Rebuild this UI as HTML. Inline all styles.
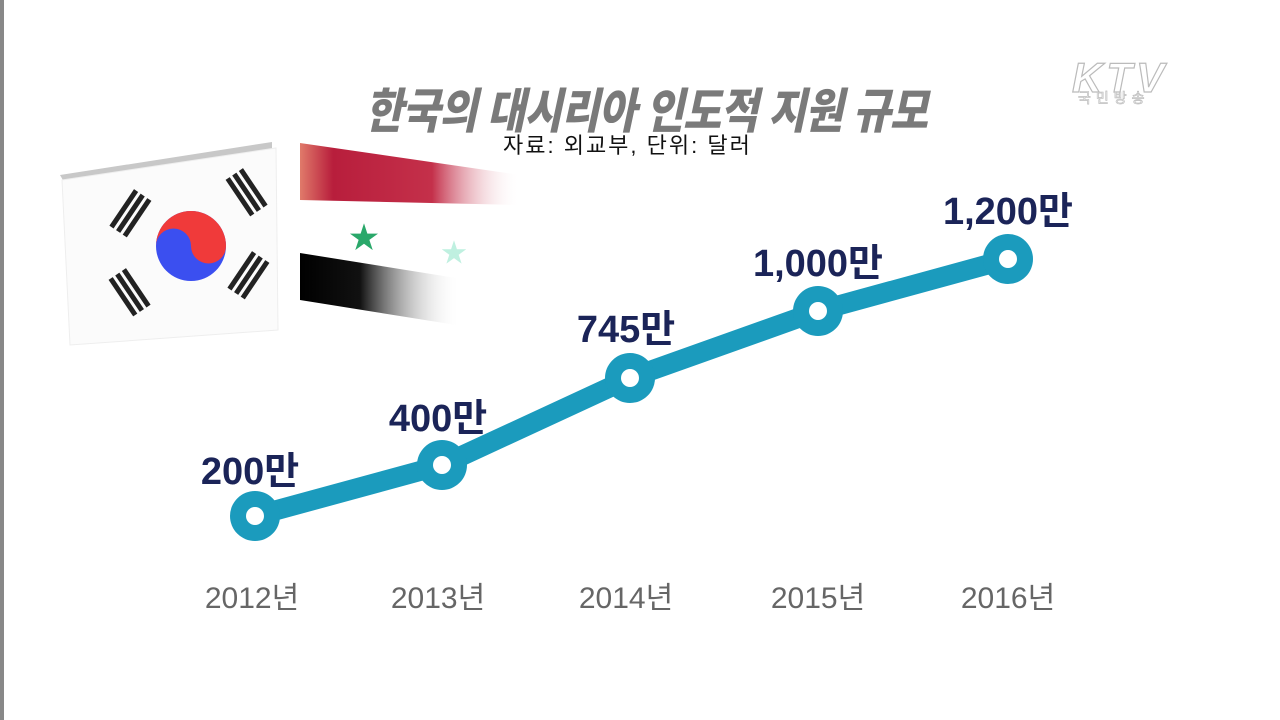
<!DOCTYPE html>
<html><head><meta charset="utf-8"><style>
body{margin:0;width:1280px;height:720px;background:#fff;overflow:hidden;position:relative;font-family:"Liberation Sans","Noto Sans CJK KR",sans-serif}
.t{position:absolute;white-space:nowrap}
</style></head><body>
<div style="position:absolute;left:0;top:0;width:4px;height:720px;background:#888"></div>
<div class="t" style="left:365px;top:72px;font-size:48px;font-weight:900;color:#7a7a7a;font-style:italic;transform:scaleX(0.86);transform-origin:left;letter-spacing:-1px">한국의 대시리아 인도적 지원 규모</div>
<div class="t" style="left:503px;top:128px;font-size:22px;color:#111;letter-spacing:2px">자료: 외교부, 단위: 달러</div>
<div class="t" style="left:1072px;top:54px;font-size:42px;font-style:italic;font-weight:bold;color:#fff;-webkit-text-stroke:1.2px #bbb;letter-spacing:4px">KTV</div>
<div class="t" style="left:1078px;top:88px;font-size:14px;color:#fff;-webkit-text-stroke:0.7px #bbb;letter-spacing:5px">국민방송</div>
<svg width="1280" height="720" style="position:absolute;left:0;top:0">
<defs>
<linearGradient id="r" x1="0" x2="1"><stop offset="0" stop-color="#e07a6a"/><stop offset="0.15" stop-color="#b81e3c"/><stop offset="0.6" stop-color="#c4304a"/><stop offset="1" stop-color="#fff" stop-opacity="0"/></linearGradient>
<linearGradient id="k" x1="0" x2="1"><stop offset="0" stop-color="#000"/><stop offset="0.3" stop-color="#111"/><stop offset="0.8" stop-color="#fff" stop-opacity="0"/></linearGradient>
</defs>
<polygon points="60,175 272,142 272,150 64,182" fill="#c8c8c8"/>
<polygon points="62,180 276,148 278,330 70,345" fill="#fbfbfb" stroke="#eee"/>
<circle cx="191" cy="246" r="35" fill="#3b4ff0"/>
<path d="M156,246 A35,35 0 0 1 226,246 A17.5,17.5 0 0 1 191,246 A17.5,17.5 0 0 0 156,246Z" fill="#f03a3a"/>
<g fill="#222">
<g transform="rotate(-56 130 213)"><rect x="108" y="203" width="44" height="5"/><rect x="108" y="211" width="44" height="5"/><rect x="108" y="219" width="44" height="5"/></g>
<g transform="rotate(56 247 192)"><rect x="225" y="182" width="44" height="5"/><rect x="225" y="190" width="44" height="5"/><rect x="225" y="198" width="44" height="5"/></g>
<g transform="rotate(56 130 292)"><rect x="108" y="282" width="44" height="5"/><rect x="108" y="290" width="44" height="5"/><rect x="108" y="298" width="44" height="5"/></g>
<g transform="rotate(-56 248 275)"><rect x="226" y="265" width="44" height="5"/><rect x="226" y="273" width="44" height="5"/><rect x="226" y="281" width="44" height="5"/></g>
</g>
<polygon points="300,143 520,175 520,205 300,200" fill="url(#r)"/>
<polygon points="300,253 500,285 500,332 300,300" fill="url(#k)"/>
<text x="364" y="248" font-size="30" fill="#2aa86a" text-anchor="middle">★</text>
<text x="454" y="262" font-size="26" fill="#bff0e0" text-anchor="middle">★</text>
<polyline points="255,516 442,465 630,378 818,311 1008,259" fill="none" stroke="#1b9bbd" stroke-width="20" stroke-linejoin="round"/>
<g fill="#1b9bbd"><circle cx="255" cy="516" r="25"/><circle cx="442" cy="465" r="25"/><circle cx="630" cy="378" r="25"/><circle cx="818" cy="311" r="25"/><circle cx="1008" cy="259" r="25"/></g>
<g fill="#fff"><circle cx="255" cy="516" r="9"/><circle cx="442" cy="465" r="9"/><circle cx="630" cy="378" r="9"/><circle cx="818" cy="311" r="9"/><circle cx="1008" cy="259" r="9"/></g>
<g font-size="38" font-weight="bold" fill="#1b2458" text-anchor="middle" font-family="Liberation Sans, Noto Sans CJK KR, sans-serif">
<text x="250" y="484">200만</text><text x="438" y="431">400만</text><text x="626" y="342">745만</text><text x="818" y="276">1,000만</text><text x="1008" y="224">1,200만</text>
</g>
<g font-size="30" fill="#666" text-anchor="middle" font-family="Liberation Sans, Noto Sans CJK KR, sans-serif">
<text x="252" y="608">2012년</text><text x="438" y="608">2013년</text><text x="626" y="608">2014년</text><text x="818" y="608">2015년</text><text x="1008" y="608">2016년</text>
</g>
</svg>
</body></html>
